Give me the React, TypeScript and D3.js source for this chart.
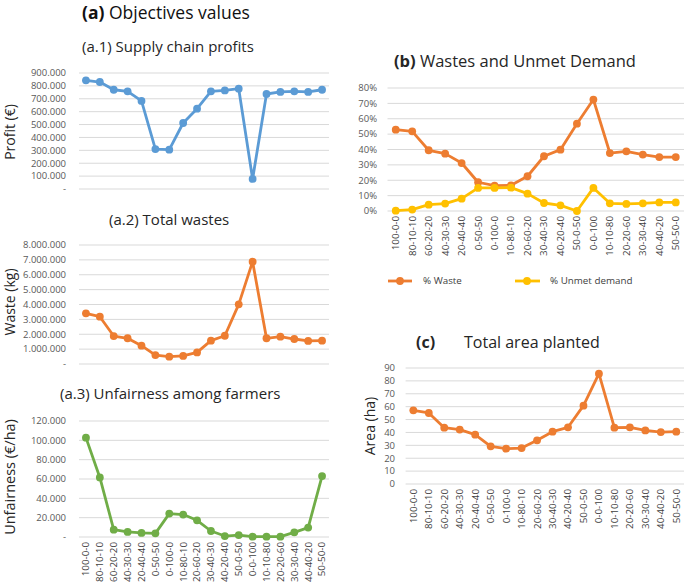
import React from 'react';
import * as d3 from 'd3';

const categories = ['100-0-0', '80-10-10', '60-20-20', '40-30-30', '20-40-40', '0-50-50', '0-100-0', '10-80-10', '20-60-20',
	'30-40-30', '40-20-40', '50-0-50', '0-0-100', '10-10-80', '20-20-60', '30-30-40', '40-40-20', '50-50-0'];

const profit = [843000, 830000, 770000, 758000, 683000, 310000, 305000, 512000, 623000, 758000, 765000, 778000, 78000, 737000, 753000, 758000, 753000, 770000];
const totalWastes = [3410000, 3180000, 1880000, 1730000, 1230000, 600000, 490000, 540000, 780000, 1570000, 1900000, 4010000, 6880000, 1730000, 1840000, 1680000, 1550000, 1570000];
const unfairness = [102800, 61600, 7600, 5200, 4200, 3800, 24200, 23200, 17300, 6200, 1000, 2000, 300, 300, 300, 4800, 9700, 63000];
const wastePct = [0.529, 0.518, 0.395, 0.373, 0.312, 0.187, 0.165, 0.167, 0.226, 0.356, 0.399, 0.568, 0.725, 0.377, 0.388, 0.367, 0.351, 0.351];
const unmetPct = [0.002, 0.009, 0.041, 0.048, 0.08, 0.15, 0.15, 0.152, 0.113, 0.052, 0.037, 0, 0.15, 0.05, 0.046, 0.05, 0.056, 0.056];
const areaPlanted = [57.2, 55.1, 43.7, 42.2, 38.3, 29.2, 27.4, 27.9, 33.9, 40.6, 44.0, 60.8, 85.6, 43.7, 44.0, 41.6, 40.3, 40.6];

const BLUE = '#5b9bd5', ORANGE = '#ed7d31', YELLOW = '#ffc000', GREEN = '#70ad47';
const FONT = '"Open Sans", sans-serif';

const dotFmt = d3.formatLocale({ decimal: ',', thousands: '.', grouping: [3], currency: ['€', ''] }).format(',.0f');
const thousands = (v) => (v === 0 ? '-' : dotFmt(v));
const pct = d3.format('.0%');

const Panel = ({ left, right, bottom, top, max, step, fmt, series, labels, labelX }) => {
	const x = d3.scaleBand().domain(categories).range([left, right]);
	const y = d3.scaleLinear().domain([0, max]).range([bottom, top]);
	const ticks = d3.range(0, max + step / 2, step);
	const line = d3.line().x((d, i) => x(categories[i]) + x.bandwidth() / 2).y(d => y(d));
	return (
		<g>
			{ticks.map(t =>
				<g key={t}>
					<line x1={left} x2={right} y1={y(t)} y2={y(t)} stroke='#d9d9d9' strokeWidth={1} />
					<text x={labelX} y={y(t)} dy='0.35em' textAnchor='end' fontSize={9.5} fill='#595959'>{fmt(t)}</text>
				</g>
			)}
			{series.map((s, k) =>
				<g key={k}>
					<path d={line(s.values)} fill='none' stroke={s.color} strokeWidth={2.8} strokeLinejoin='round' />
					{s.values.map((v, i) =>
						<circle key={i} cx={x(categories[i]) + x.bandwidth() / 2} cy={y(v)} r={3.9} fill={s.color} />
					)}
				</g>
			)}
			{labels && categories.map(c =>
				<text key={c} transform={`translate(${x(c) + x.bandwidth() / 2},${bottom + 5}) rotate(-90)`}
					dy='0.35em' textAnchor='end' fontSize={9.8} fill='#404040'>{c}</text>
			)}
		</g>
	);
};

export default function App() {
	return (
		<svg width={685} height={588} style={{ position: 'absolute', left: 0, top: 0, background: '#fff' }} fontFamily={FONT}>
			<text x={82} y={19} fontSize={17.5} fill='#111'><tspan fontWeight='bold'>(a)</tspan> Objectives values</text>

			<text x={82} y={52} fontSize={15} fill='#262626'>(a.1) Supply chain profits</text>
			<text transform='translate(15,132) rotate(-90)' textAnchor='middle' fontSize={14} fill='#262626'>Profit (€)</text>
			<Panel left={79} right={329} bottom={189} top={73} max={900000} step={100000} fmt={thousands} labelX={66}
				series={[{ values: profit, color: BLUE }]} />

			<text x={109} y={225} fontSize={15} fill='#262626'>(a.2) Total wastes</text>
			<text transform='translate(15,302) rotate(-90)' textAnchor='middle' fontSize={14} fill='#262626'>Waste (kg)</text>
			<Panel left={79} right={329} bottom={364} top={245} max={8000000} step={1000000} fmt={thousands} labelX={66}
				series={[{ values: totalWastes, color: ORANGE }]} />

			<text x={60} y={399} fontSize={15} fill='#262626'>(a.3) Unfairness among farmers</text>
			<text transform='translate(15,477) rotate(-90)' textAnchor='middle' fontSize={14.5} fill='#262626'>Unfairness (€/ha)</text>
			<Panel left={79} right={329} bottom={537} top={421} max={120000} step={20000} fmt={thousands} labelX={66}
				series={[{ values: unfairness, color: GREEN }]} labels />

			<text x={394} y={67} fontSize={16.5} fill='#262626'><tspan fontWeight='bold'>(b)</tspan> Wastes and Unmet Demand</text>
			<Panel left={387.5} right={684} bottom={211} top={88} max={0.8} step={0.1} fmt={pct} labelX={377}
				series={[{ values: wastePct, color: ORANGE }, { values: unmetPct, color: YELLOW }]} labels />
			<g>
				<line x1={388} x2={412} y1={281} y2={281} stroke={ORANGE} strokeWidth={2.8} />
				<circle cx={400} cy={281} r={3.9} fill={ORANGE} />
				<text x={423} y={281} dy='0.35em' fontSize={9.8} fill='#404040'>% Waste</text>
				<line x1={515} x2={540} y1={281} y2={281} stroke={YELLOW} strokeWidth={2.8} />
				<circle cx={527} cy={281} r={3.9} fill={YELLOW} />
				<text x={550} y={281} dy='0.35em' fontSize={9.8} fill='#404040'>% Unmet demand</text>
			</g>

			<text x={416} y={348} fontSize={16} fill='#262626'><tspan fontWeight='bold'>(c)</tspan><tspan x={464}>Total area planted</tspan></text>
			<text transform='translate(375,426) rotate(-90)' textAnchor='middle' fontSize={14} fill='#262626'>Area (ha)</text>
			<Panel left={405.6} right={684} bottom={484} top={368} max={90} step={10} fmt={d3.format('d')} labelX={395}
				series={[{ values: areaPlanted, color: ORANGE }]} labels />
		</svg>
	);
}
